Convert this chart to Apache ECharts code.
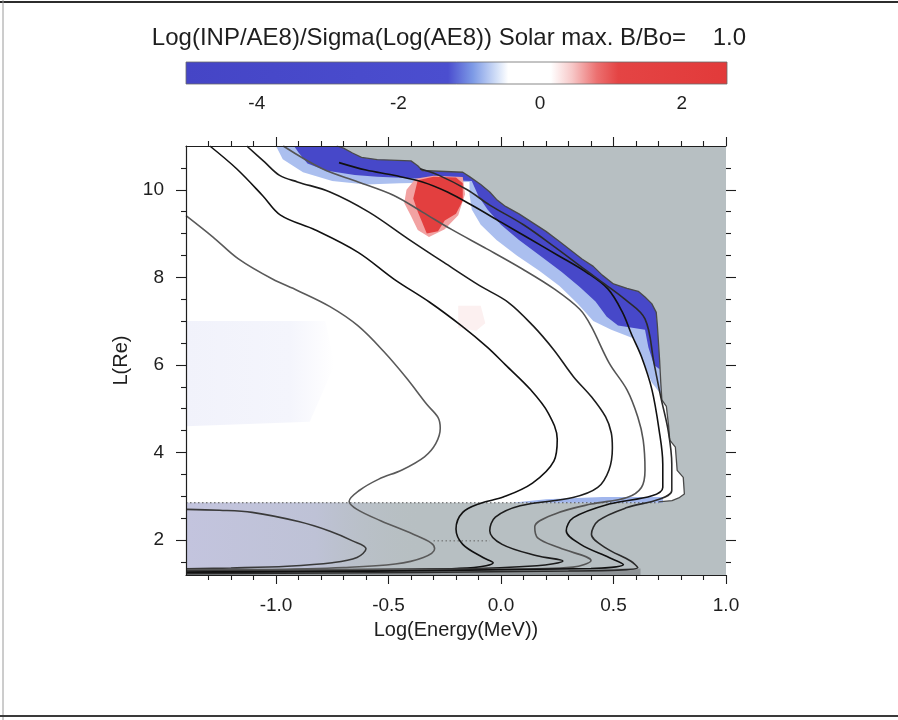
<!DOCTYPE html>
<html>
<head>
<meta charset="utf-8">
<script src="https://cdn.jsdelivr.net/npm/echarts@6/dist/echarts.min.js"></script>
<style>
  html, body { margin: 0; padding: 0; background: #ffffff; }
  #chart { width: 898px; height: 720px; }
</style>
</head>
<body>
<div id="chart"></div>
<script>
// ---- axes and colour scale ----
const titleText = 'Log(INP/AE8)/Sigma(Log(AE8)) Solar max. B/Bo=    1.0';
const xRange = [-1.4, 1.0];
const yRange = [1.2, 11];
const xMajor = [-1, -0.5, 0, 0.5, 1];
const xMinor = [-1.3, -1.2, -1.1, -0.9, -0.8, -0.7, -0.6, -0.4, -0.3, -0.2, -0.1,
                0.1, 0.2, 0.3, 0.4, 0.6, 0.7, 0.8, 0.9];
const yMajor = [2, 4, 6, 8, 10];
const yMinor = [1.5, 2.5, 3, 3.5, 4.5, 5, 5.5, 6.5, 7, 7.5, 8.5, 9, 9.5, 10.5];
const cbRange = [-5, 2.64];
const cbTicks = [-4, -2, 0, 2];
const colorStops = [
  [-5, '#4545c6'], [-1.3, '#4b4ecf'], [-0.95, '#7d9ae6'], [-0.6, '#d6e2f8'],
  [-0.45, '#ffffff'], [0.15, '#ffffff'], [0.45, '#f7c8c8'], [0.8, '#ec7070'],
  [1.1, '#e44444'], [2.64, '#e23a3a']
];

// ---- edge of the model's valid region (jagged), top to bottom ----
const validEdge = [
  [-0.73, 11.0], [-0.70, 10.95], [-0.66, 10.84], [-0.62, 10.74], [-0.55, 10.69],
  [-0.40, 10.66], [-0.37, 10.55], [-0.35, 10.44], [-0.17, 10.40], [-0.14, 10.30],
  [-0.09, 10.12], [-0.05, 9.95], [-0.02, 9.78], [0.02, 9.62], [0.08, 9.45],
  [0.14, 9.25], [0.20, 9.05], [0.26, 8.82], [0.31, 8.62], [0.36, 8.42], [0.41, 8.25],
  [0.45, 8.05], [0.50, 7.85], [0.56, 7.75], [0.61, 7.68], [0.64, 7.55], [0.67, 7.40],
  [0.69, 7.2], [0.695, 6.9], [0.70, 6.5], [0.705, 6.1], [0.71, 5.6], [0.715, 5.2],
  [0.735, 5.05], [0.745, 4.6], [0.75, 4.28], [0.775, 4.12], [0.783, 3.59], [0.81, 3.43],
  [0.815, 3.05], [0.79, 2.96], [0.76, 2.90], [0.70, 2.87]
];
const innerZoneTop = 2.85;

// ---- ratio patches (value on the colour scale) ----
const deepBlueInner = [
  [0.705, 5.9], [0.68, 6.0], [0.655, 6.4], [0.64, 6.8], [0.52, 6.9], [0.47, 7.1],
  [0.42, 7.45], [0.35, 7.78], [0.27, 8.12], [0.18, 8.47], [0.08, 8.85], [0.0, 9.2],
  [-0.06, 9.55], [-0.10, 9.85], [-0.13, 10.2], [-0.22, 10.22], [-0.32, 10.24],
  [-0.42, 10.27], [-0.55, 10.3], [-0.65, 10.34], [-0.78, 10.44], [-0.86, 10.6],
  [-0.90, 10.85], [-0.92, 11.0]
];
const blueHaloInner = [
  [0.715, 5.3], [0.67, 5.6], [0.63, 6.1], [0.59, 6.6], [0.49, 6.8], [0.41, 7.0],
  [0.34, 7.4], [0.26, 7.8], [0.17, 8.15], [0.07, 8.5], [-0.02, 8.85], [-0.09, 9.2],
  [-0.13, 9.55], [-0.14, 9.9], [-0.14, 10.18], [-0.45, 10.15], [-0.6, 10.12],
  [-0.75, 10.2], [-0.88, 10.4], [-0.97, 10.7], [-1.0, 11.0]
];
const redCore = [
  [-0.37, 10.22], [-0.30, 10.30], [-0.20, 10.28], [-0.17, 10.15], [-0.17, 9.75],
  [-0.20, 9.45], [-0.25, 9.3], [-0.28, 9.05], [-0.33, 9.0], [-0.35, 9.25],
  [-0.37, 9.5], [-0.39, 9.8]
];
const redHalo = [
  [-0.42, 10.0], [-0.38, 10.25], [-0.30, 10.32], [-0.17, 10.29], [-0.16, 9.9],
  [-0.19, 9.42], [-0.25, 9.1], [-0.32, 8.92], [-0.37, 9.08], [-0.40, 9.4], [-0.43, 9.7]
];
const faintBlue = [[-1.4, 7.0], [-0.78, 7.0], [-0.74, 6.0], [-0.85, 4.7], [-1.4, 4.6]];
const faintPink = [[-0.19, 7.35], [-0.09, 7.35], [-0.07, 6.95], [-0.11, 6.78], [-0.19, 6.85]];
const slotBlue = [[0.05, 2.85], [0.72, 2.85], [0.72, 2.98], [0.45, 2.98], [0.2, 2.93]];
const patchValues = { deep: -3.6, halo: -0.85, redCore: 1.8, redHalo: 0.6, slot: -0.9 };

// ---- flux contours (log10 flux), each as [logE, L] points ----
const contour8 = [[-1.40, 2.70], [-1.25, 2.68], [-1.106, 2.63], [-0.9, 2.42], [-0.76, 2.2],
  [-0.66, 1.98], [-0.60, 1.80], [-0.64, 1.60], [-0.75, 1.48], [-0.95, 1.40], [-1.2, 1.36], [-1.40, 1.34]];
const contour7 = [[-1.40, 9.41], [-1.28, 8.92], [-1.167, 8.42], [-1.016, 7.96], [-0.905, 7.70],
  [-0.76, 7.33], [-0.635, 6.89], [-0.52, 6.3], [-0.42, 5.7], [-0.33, 5.1], [-0.28, 4.8],
  [-0.27, 4.55], [-0.29, 4.2], [-0.34, 3.9], [-0.44, 3.6], [-0.543, 3.39], [-0.63, 3.13],
  [-0.675, 2.88], [-0.64, 2.7], [-0.535, 2.44], [-0.39, 2.13], [-0.31, 1.93], [-0.295, 1.8],
  [-0.345, 1.6], [-0.47, 1.45], [-0.7, 1.37], [-1.1, 1.31], [-1.4, 1.29]];
const contour6 = [[-1.294, 11.0], [-1.175, 10.48], [-1.06, 9.87], [-0.98, 9.42], [-0.825, 9.08],
  [-0.635, 8.57], [-0.476, 7.96], [-0.317, 7.43], [-0.175, 6.89], [-0.06, 6.4], [0.02, 6.0],
  [0.132, 5.43], [0.21, 4.9], [0.25, 4.3], [0.235, 3.8], [0.14, 3.3], [0.01, 2.98],
  [-0.09, 2.84], [-0.17, 2.63], [-0.2, 2.25], [-0.17, 1.9], [-0.08, 1.6], [-0.035, 1.48],
  [-0.12, 1.37], [-0.5, 1.31], [-1.4, 1.27]];
const contour5 = [[-1.13, 11.0], [-1.05, 10.63], [-0.984, 10.33], [-0.905, 10.18], [-0.76, 9.95],
  [-0.587, 9.49], [-0.413, 8.88], [-0.254, 8.34], [-0.095, 7.81], [0.032, 7.43], [0.143, 6.89],
  [0.235, 6.34], [0.322, 5.73], [0.402, 5.27], [0.465, 4.81], [0.49, 4.45], [0.495, 4.1],
  [0.48, 3.6], [0.43, 3.2], [0.32, 2.97], [0.085, 2.78], [-0.025, 2.52], [-0.05, 2.21],
  [0.005, 1.9], [0.16, 1.64], [0.275, 1.52], [0.16, 1.41], [-0.2, 1.34], [-1.4, 1.31]];
const contour4 = [[-0.968, 11.0], [-0.794, 10.48], [-0.635, 10.18], [-0.476, 9.87], [-0.349, 9.49],
  [-0.222, 9.1], [-0.063, 8.65], [0.095, 8.19], [0.238, 7.73], [0.35, 7.27], [0.40, 6.89],
  [0.481, 6.04], [0.56, 5.43], [0.608, 4.81], [0.632, 4.28], [0.64, 3.6], [0.624, 3.2],
  [0.56, 2.97], [0.40, 2.82], [0.243, 2.6], [0.15, 2.3], [0.163, 2.05], [0.26, 1.82],
  [0.40, 1.53], [0.32, 1.38], [0.0, 1.33], [-1.4, 1.32]];
const contour3 = [[-0.72, 10.62], [-0.60, 10.45], [-0.476, 10.33], [-0.349, 10.18], [-0.238, 9.95],
  [-0.127, 9.64], [0.0, 9.26], [0.127, 8.88], [0.254, 8.5], [0.381, 8.11], [0.476, 7.73],
  [0.54, 7.2], [0.58, 6.7], [0.624, 6.19], [0.671, 5.43], [0.703, 4.5], [0.719, 3.74],
  [0.719, 3.2], [0.671, 3.01], [0.48, 2.82], [0.322, 2.51], [0.29, 2.21], [0.354, 1.9],
  [0.48, 1.6], [0.544, 1.44], [0.40, 1.35], [-1.4, 1.25]];
const contour2 = [[-0.36, 10.48], [-0.28, 10.34], [-0.15, 10.0], [-0.05, 9.65], [0.10, 9.2],
  [0.25, 8.65], [0.38, 8.15], [0.46, 7.85], [0.55, 7.5], [0.64, 7.05], [0.68, 6.04],
  [0.71, 5.27], [0.743, 4.5], [0.759, 3.74], [0.759, 3.13], [0.703, 2.93], [0.56, 2.74],
  [0.433, 2.44], [0.402, 2.13], [0.465, 1.82], [0.576, 1.52], [0.608, 1.37], [0.3, 1.29], [-1.4, 1.23]];
const contourLabels = [
  { text: '7', at: [-1.16, 8.40], angle: -30 },
  { text: '7', at: [-0.543, 3.39], angle: 30 },
  { text: '5', at: [-1.10, 10.88], angle: -60 },
  { text: '5', at: [0.235, 6.34], angle: -62 },
  { text: '3', at: [0.74, 3.0], angle: 30 },
  { text: '5', at: [0.25, 1.56], angle: -20 }
];

// ---- helpers ----
function hexToRgb(h) {
  const n = parseInt(h.slice(1), 16);
  return [(n >> 16) & 255, (n >> 8) & 255, n & 255];
}
function colorAt(v) {
  if (v <= colorStops[0][0]) return colorStops[0][1];
  for (let i = 1; i < colorStops.length; i++) {
    const [v1, c1] = colorStops[i];
    const [v0, c0] = colorStops[i - 1];
    if (v <= v1) {
      const t = (v - v0) / (v1 - v0);
      const a = hexToRgb(c0), b = hexToRgb(c1);
      const m = a.map((x, k) => Math.round(x + (b[k] - x) * t));
      return 'rgb(' + m.join(',') + ')';
    }
  }
  return colorStops[colorStops.length - 1][1];
}
const validRegion = [[xRange[0], yRange[1]]].concat(validEdge,
  [[validEdge[validEdge.length - 1][0], innerZoneTop], [xRange[0], innerZoneTop]]);
const deepBlue = [[deepBlueInner[deepBlueInner.length - 1][0], yRange[1]]]
  .concat(validEdge.filter(p => p[1] >= 5.9), deepBlueInner);
const blueHalo = [[blueHaloInner[blueHaloInner.length - 1][0], yRange[1]]]
  .concat(validEdge.filter(p => p[1] >= 5.3), blueHaloInner);
const innerZoneWest = [[xRange[0], yRange[0]], [-0.35, yRange[0]], [-0.35, innerZoneTop], [xRange[0], innerZoneTop]];
const floorBand = [[xRange[0], yRange[0]], [0.62, yRange[0]], [0.62, 1.35], [xRange[0], 1.35]];

function patch(points, fill, z, opacity) {
  return {
    type: 'custom', xAxisIndex: 0, yAxisIndex: 0, z: z, silent: true, clip: true,
    data: points,
    renderItem: function (params, api) {
      if (params.dataIndex !== 0) return null;
      return {
        type: 'polygon',
        shape: { points: points.map(p => api.coord(p)) },
        style: { fill: fill, opacity: opacity == null ? 1 : opacity }
      };
    }
  };
}
function contour(points, color, width) {
  return {
    type: 'line', xAxisIndex: 0, yAxisIndex: 0, data: points, smooth: 0.35,
    symbol: 'none', silent: true, z: 6, clip: true,
    lineStyle: { color: color, width: width || 1.6 }
  };
}

const FONT = 'Liberation Sans, Arial, Helvetica, sans-serif';
const INK = '#1e1e1e';
const axisLineStyle = { color: INK, width: 1.2 };

const chart = echarts.init(document.getElementById('chart'), null, { renderer: 'canvas' });

const series = [
  // valid region (white), inner zone shading
  patch(validRegion, '#ffffff', 1),
  patch(faintBlue, new echarts.graphic.LinearGradient(0, 0, 1, 0, [
    { offset: 0, color: '#f1f2fb' }, { offset: 0.7, color: '#f4f5fc' }, { offset: 1, color: '#ffffff' }
  ]), 2),
  patch(faintPink, '#fcf0f0', 2),
  patch(innerZoneWest, new echarts.graphic.LinearGradient(0, 0, 1, 0, [
    { offset: 0, color: '#c3c4de' }, { offset: 0.55, color: '#bec2d6' }, { offset: 1, color: 'rgba(183,191,194,0)' }
  ]), 2),
  patch(floorBand, '#8e9396', 2),
  patch(blueHalo, colorAt(patchValues.halo), 3, 0.8),
  patch(deepBlue, colorAt(patchValues.deep), 4),
  patch(redHalo, colorAt(patchValues.redHalo), 4),
  patch(redCore, colorAt(patchValues.redCore), 5),
  patch(slotBlue, colorAt(patchValues.slot), 4, 0.8),
  // dotted boundary of the inner zone
  {
    type: 'line', data: [[xRange[0], innerZoneTop], [0.70, innerZoneTop]], symbol: 'none', z: 6, silent: true,
    lineStyle: { color: '#555', width: 1.2, type: [1.5, 2.5] }
  },
  {
    type: 'line', data: [[-0.30, 1.98], [-0.05, 1.98]], symbol: 'none', z: 6, silent: true,
    lineStyle: { color: '#666', width: 1, type: [1.5, 2.5] }
  },
  // valid-region edge
  {
    type: 'line', data: validEdge, symbol: 'none', z: 6, silent: true,
    lineStyle: { color: '#4a4a4a', width: 1.3 }
  },
  contour(contour8, '#3a3a3a'),
  contour(contour7, '#5a5a5a'),
  contour(contour6, '#111111'),
  contour(contour5, '#1c1c1c'),
  contour(contour4, '#555555'),
  contour(contour3, '#111111'),
  contour(contour2, '#2a2a2a'),
  {
    type: 'scatter', data: contourLabels.map(l => ({
      value: l.at, name: l.text,
      label: { rotate: l.angle, backgroundColor: l.at[1] > innerZoneTop + 0.2 ? '#ffffff' : 'transparent' }
    })),
    symbolSize: 1, itemStyle: { opacity: 0 }, z: 8, silent: true,
    label: {
      show: true, position: 'inside', formatter: p => p.name, fontSize: 15,
      fontFamily: FONT, color: INK, padding: [0, 1]
    }
  },
  // colour bar
  {
    type: 'custom', xAxisIndex: 4, yAxisIndex: 4, silent: true, z: 2,
    data: [[cbRange[0], 0, cbRange[1], 1]],
    renderItem: function (params, api) {
      const p0 = api.coord([api.value(0), api.value(3)]);
      const p1 = api.coord([api.value(2), api.value(1)]);
      const span = cbRange[1] - cbRange[0];
      return {
        type: 'rect',
        shape: { x: p0[0], y: p0[1], width: p1[0] - p0[0], height: p1[1] - p0[1] },
        style: {
          fill: new echarts.graphic.LinearGradient(0, 0, 1, 0,
            colorStops.map(s => ({ offset: (s[0] - cbRange[0]) / span, color: s[1] }))),
          stroke: '#6a6a6a', lineWidth: 0.8
        }
      };
    }
  }
];

function tickAxis(base, values, len, showLine) {
  return Object.assign({
    type: 'value', z: 10,
    axisLine: { show: showLine, onZero: false, lineStyle: axisLineStyle },
    axisTick: { show: true, inside: false, length: len, customValues: values, lineStyle: { color: INK, width: 1.1 } },
    axisLabel: { show: false },
    splitLine: { show: false }
  }, base);
}

const option = {
  animation: false,
  backgroundColor: '#ffffff',
  title: {
    text: titleText, left: 'center', top: 21,
    textStyle: { fontFamily: FONT, fontSize: 24, fontWeight: 'normal', color: INK }
  },
  grid: [
    { left: 186, top: 146, width: 540, height: 429, show: true, backgroundColor: '#b7bfc2', borderWidth: 0 },
    { left: 186, top: 62, width: 541, height: 22, show: false }
  ],
  xAxis: [
    Object.assign(tickAxis({ gridIndex: 0, position: 'bottom', min: xRange[0], max: xRange[1] }, xMajor, 9, true), {
      axisLabel: {
        show: true, customValues: xMajor, formatter: v => v.toFixed(1), fontSize: 19,
        fontFamily: FONT, color: INK, margin: 21
      },
      name: 'Log(Energy(MeV))', nameLocation: 'middle', nameGap: 45,
      nameTextStyle: { fontFamily: FONT, fontSize: 20, color: INK }
    }),
    tickAxis({ gridIndex: 0, position: 'bottom', min: xRange[0], max: xRange[1] }, xMinor, 5, false),
    tickAxis({ gridIndex: 0, position: 'top', min: xRange[0], max: xRange[1] }, xMajor, 9, true),
    tickAxis({ gridIndex: 0, position: 'top', min: xRange[0], max: xRange[1] }, xMinor, 5, false),
    {
      gridIndex: 1, type: 'value', min: cbRange[0], max: cbRange[1], position: 'bottom',
      axisLine: { show: false }, axisTick: { show: false }, splitLine: { show: false },
      axisLabel: { show: true, customValues: cbTicks, fontSize: 19, fontFamily: FONT, color: INK, margin: 10 }
    }
  ],
  yAxis: [
    Object.assign(tickAxis({ gridIndex: 0, position: 'left', min: yRange[0], max: yRange[1] }, yMajor, 10, true), {
      axisLabel: { show: true, customValues: yMajor, fontSize: 19, fontFamily: FONT, color: INK, margin: 22 },
      name: 'L(Re)', nameLocation: 'middle', nameGap: 50, nameRotate: 90,
      nameTextStyle: { fontFamily: FONT, fontSize: 20, color: INK }
    }),
    tickAxis({ gridIndex: 0, position: 'left', min: yRange[0], max: yRange[1] }, yMinor, 5, false),
    tickAxis({ gridIndex: 0, position: 'right', min: yRange[0], max: yRange[1] }, yMajor, 10, false),
    tickAxis({ gridIndex: 0, position: 'right', min: yRange[0], max: yRange[1] }, yMinor, 5, false),
    { gridIndex: 1, type: 'value', min: 0, max: 1, show: false }
  ],
  graphic: [
    { type: 'line', shape: { x1: 0, y1: 2, x2: 898, y2: 2 }, style: { stroke: '#2c2c2c', lineWidth: 2 }, silent: true },
    { type: 'line', shape: { x1: 3, y1: 0, x2: 3, y2: 720 }, style: { stroke: '#9a9a9a', lineWidth: 1 }, silent: true },
    { type: 'line', shape: { x1: 0, y1: 716, x2: 898, y2: 716 }, style: { stroke: '#3a3a3a', lineWidth: 2 }, silent: true }
  ],
  series: series
};
chart.setOption(option);
</script>
</body>
</html>
